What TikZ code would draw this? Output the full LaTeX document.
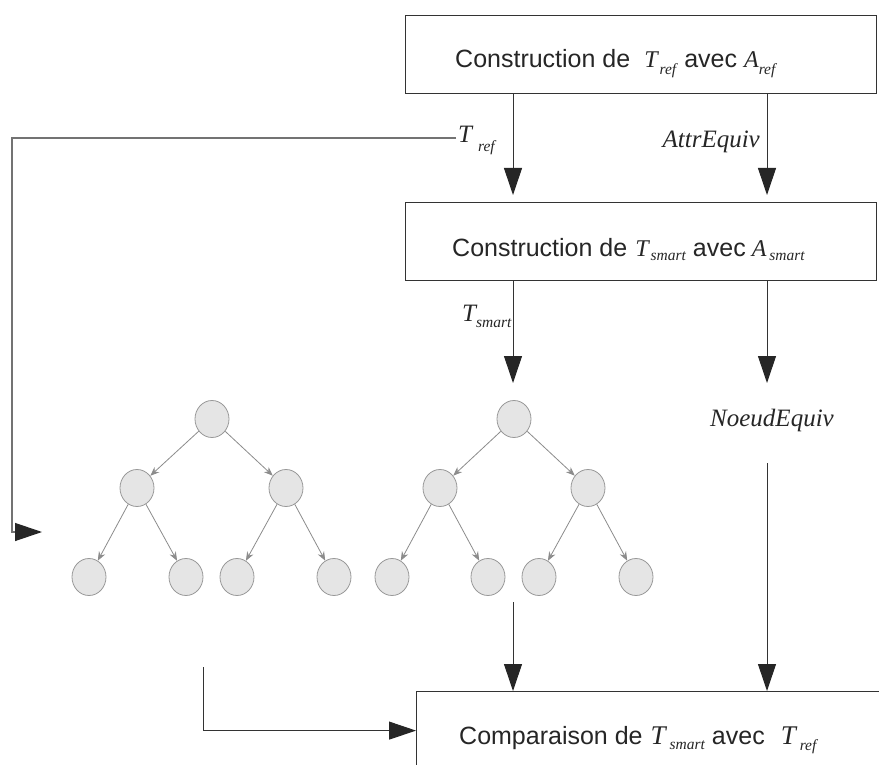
\documentclass[tikz,border=0pt]{standalone}
\usepackage{fontspec}
\setmainfont{Liberation Sans}
\newfontfamily\varfont{Liberation Serif}
\usetikzlibrary{arrows.meta,shapes.geometric}
% #1 size of main letter, #2 kern, #3 lowering, #4 letter, #5 subscript
\newcommand\vv[5]{{\varfont\itshape\fontsize{#1}{#1}\selectfont #4\kern#2\raisebox{-#3}{\fontsize{15.5}{16}\selectfont #5}}}
\begin{document}
\begin{tikzpicture}[x=1pt,y=-1pt,
  box/.style={draw=black!80, line width=1.2pt, minimum width=471pt, minimum height=78pt, inner sep=0pt, anchor=north west},
  txt/.style={font=\fontsize{25}{30}\selectfont, text=black!85, inner sep=0pt},
  lbl/.style={font=\fontsize{25}{30}\selectfont\varfont\itshape, text=black!85, inner sep=0pt},
  tn/.style={ellipse, draw=black!40, fill=black!10, line width=0.8pt, minimum width=34pt, minimum height=37pt, inner sep=0pt},
  te/.style={draw=black!45, line width=0.8pt, -{Stealth[length=9pt,width=7pt]}},
  big/.style={draw=black!80, line width=1pt, -{Triangle[length=27pt,width=18pt,color=black!85]}},
  fb/.style={draw=black!55, line width=1.3pt, -{Triangle[length=27pt,width=18pt,color=black!85]}}]
\clip (0,0) rectangle (879,765);
\fill[white] (0,0) rectangle (879,765);

% boxes
\node[box] (box1) at (405,15) {};
\node[box] (box2) at (405,202) {};
\node[box] (box3) at (416,691) {};
\node[txt, anchor=base west] (t1) at (455,68) {Construction de\hspace{14pt}\vv{24}{2pt}{7pt}{T}{ref}\hspace{8pt}avec\hspace{7pt}\vv{24}{0pt}{7pt}{A}{ref}};
\node[txt, anchor=base west] (t2) at (452,256) {Construction de\hspace{8pt}\vv{24}{2pt}{5pt}{T}{smart}\hspace{7pt}avec\hspace{6pt}\vv{24}{3pt}{5pt}{A}{smart}};
\node[txt, anchor=base west] (t3) at (459,744) {Comparaison de\hspace{8pt}\vv{27}{4pt}{5pt}{T}{smart}\hspace{7pt}avec\hspace{16pt}\vv{27}{4pt}{6pt}{T}{ref}};

% labels
\node[lbl, anchor=base west] (lref) at (458,143) {\vv{25}{6pt}{9pt}{T}{ref}};
\node[lbl, anchor=base east] (lattr) at (760,148) {AttrEquiv};
\node[lbl, anchor=base west] (lsmart) at (462,321) {\vv{25}{0pt}{6pt}{T}{smart}};
\node[lbl, anchor=base] (neq) at (772,426) {NoeudEquiv};

% column coordinates
\coordinate (cL) at (513,0);
\coordinate (cR) at (767,0);
\coordinate (p1) at (513,195);
\coordinate (p2) at (767,195);
\coordinate (p3) at (513,383);
\coordinate (p4) at (767,383);
\coordinate (p5) at (767,463);
\coordinate (p6) at (513,602);
\coordinate (p7) at (203,667);
\coordinate (p8) at (456,138);
\coordinate (p9) at (42,532);

% trees
\node[tn] (a1) at (212,419) {};
\node[tn] (b1) at (137,488) {};
\node[tn] (b2) at (286,488) {};
\node[tn] (c1) at (89,577) {};
\node[tn] (c2) at (186,577) {};
\node[tn] (c3) at (237,577) {};
\node[tn] (c4) at (334,577) {};
\node[tn] (a2) at (514,419) {};
\node[tn] (d1) at (440,488) {};
\node[tn] (d2) at (588,488) {};
\node[tn] (e1) at (392,577) {};
\node[tn] (e2) at (488,577) {};
\node[tn] (e3) at (539,577) {};
\node[tn] (e4) at (636,577) {};
\draw[te] (a1) -- (b1);
\draw[te] (a1) -- (b2);
\draw[te] (b1) -- (c1);
\draw[te] (b1) -- (c2);
\draw[te] (b2) -- (c3);
\draw[te] (b2) -- (c4);
\draw[te] (a2) -- (d1);
\draw[te] (a2) -- (d2);
\draw[te] (d1) -- (e1);
\draw[te] (d1) -- (e2);
\draw[te] (d2) -- (e3);
\draw[te] (d2) -- (e4);

% main connectors
\draw[big] (box1.south -| cL) -- (p1);
\draw[big] (box1.south -| cR) -- (p2);
\draw[big] (box2.south -| cL) -- (p3);
\draw[big] (box2.south -| cR) -- (p4);
\draw[big] (p5) -- (box3.north -| cR);
\draw[big] (p6) -- (box3.north -| cL);
\draw[big] (p7) |- (box3.west);
\draw[fb] (p8) -- (12,138) |- (p9);
\end{tikzpicture}
\end{document}
